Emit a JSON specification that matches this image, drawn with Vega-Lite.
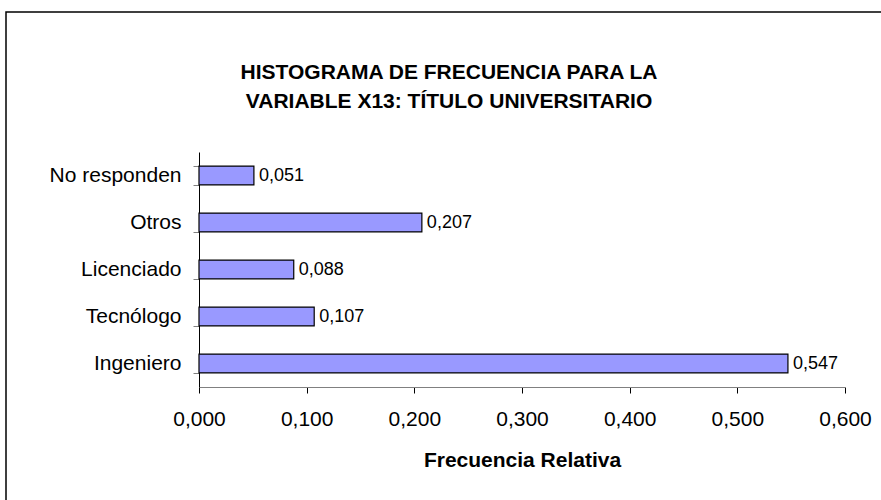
{
  "$schema": "https://vega.github.io/schema/vega-lite/v6.json",
  "autosize": "none",
  "width": 880,
  "height": 495,
  "padding": {"left": 6, "top": 12, "right": 0, "bottom": 0},
  "background": "white",
  "config": {
    "locale": {"number": {"decimal": ",", "thousands": ".", "grouping": [3], "currency": ["", " €"]}},
    "font": "Liberation Sans",
    "view": {"stroke": "black", "strokeWidth": 1.5}
  },
  "title": {
    "text": ["HISTOGRAMA DE FRECUENCIA PARA LA", "VARIABLE X13: TÍTULO UNIVERSITARIO"],
    "font": "Liberation Sans",
    "fontSize": 21,
    "fontWeight": "bold",
    "lineHeight": 29,
    "anchor": "middle",
    "offset": -111,
    "dx": 3,
    "color": "black"
  },
  "data": {
    "values": [
      {"titulo": "No responden", "frecuencia": 0.051},
      {"titulo": "Otros", "frecuencia": 0.207},
      {"titulo": "Licenciado", "frecuencia": 0.088},
      {"titulo": "Tecnólogo", "frecuencia": 0.107},
      {"titulo": "Ingeniero", "frecuencia": 0.547}
    ]
  },
  "encoding": {
    "y": {
      "field": "titulo",
      "type": "nominal",
      "sort": null,
      "scale": {"range": [140, 375], "paddingInner": 0.6, "paddingOuter": 0.3},
      "axis": {
        "title": null,
        "offset": -193,
        "labelFontSize": 21,
        "labelColor": "black",
        "labelPadding": 12,
        "domainColor": "black",
        "domainWidth": 1,
        "tickColor": "#808080",
        "tickSize": 6,
        "tickBand": "extent"
      }
    },
    "x": {
      "field": "frecuencia",
      "type": "quantitative",
      "scale": {"domain": [0, 0.6], "range": [193, 839], "nice": false},
      "axis": {
        "title": "Frecuencia Relativa",
        "titleFontSize": 21,
        "titleFontWeight": "bold",
        "titleColor": "black",
        "titlePadding": 20,
        "offset": -120,
        "values": [0, 0.1, 0.2, 0.3, 0.4, 0.5, 0.6],
        "format": ".3f",
        "labelFontSize": 21,
        "labelColor": "black",
        "labelPadding": 15,
        "labelFlush": false,
        "domainColor": "#808080",
        "tickColor": "black",
        "tickSize": 6,
        "grid": false
      }
    }
  },
  "layer": [
    {"mark": {"type": "bar", "fill": "#9999FF", "stroke": "black", "strokeWidth": 1.2}},
    {
      "mark": {"type": "text", "align": "left", "baseline": "middle", "dx": 5, "fontSize": 18, "color": "black"},
      "encoding": {"text": {"field": "frecuencia", "type": "quantitative", "format": ".3f"}}
    }
  ]
}
